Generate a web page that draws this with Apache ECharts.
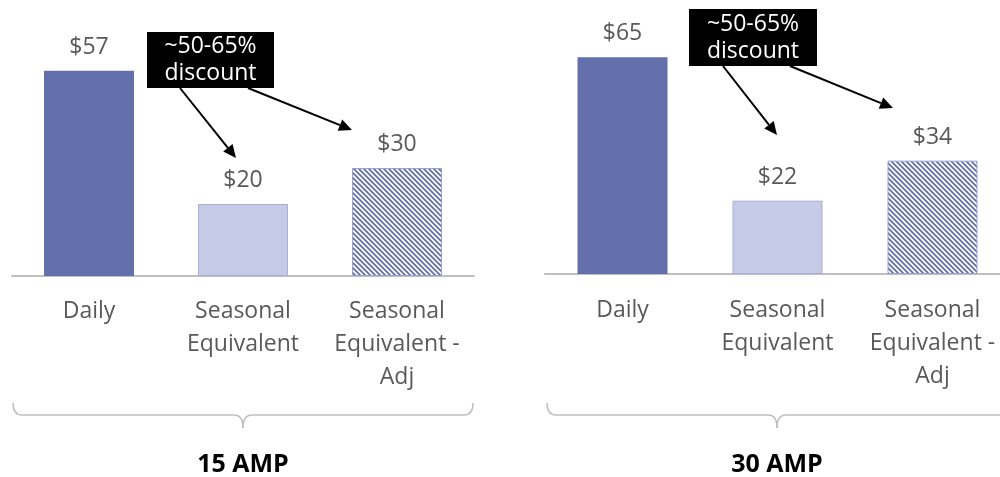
<!DOCTYPE html>
<html>
<head>
<meta charset="utf-8">
<script src="https://cdn.jsdelivr.net/npm/echarts@6/dist/echarts.min.js"></script>
<style>html,body{margin:0;padding:0;background:#fff}#c{width:1000px;height:477px}</style>
</head>
<body>
<div id="c"></div>
<script>
const categories = ['Daily', 'Seasonal\nEquivalent', 'Seasonal\nEquivalent -\nAdj'];
const amp15Values = [57, 20, 30];
const amp30Values = [65, 22, 34];
const groupLabels = ['15 AMP', '30 AMP'];
const annotationText = '~50-65%\ndiscount';

const FONT = '"Open Sans", "Noto Sans", sans-serif';
const DARK = '#6370ac';
const LIGHT = '#c5cae6';
const GRAY = '#595959';
const LINE = '#bfbfbf';

function makeHatch() {
  const c = document.createElement('canvas');
  c.width = 5; c.height = 5;
  const g = c.getContext('2d');
  g.fillStyle = '#ffffff';
  g.fillRect(0, 0, 5, 5);
  g.strokeStyle = DARK;
  g.lineWidth = 1.8;
  g.beginPath();
  for (const k of [-5, 0, 5]) { g.moveTo(k - 1, -1); g.lineTo(k + 6, 6); }
  g.stroke();
  return c;
}
const hatch = { image: makeHatch(), repeat: 'repeat' };

function items(vals) {
  return vals.map((v, i) => ({
    value: v,
    itemStyle: i === 0 ? { color: DARK } :
      i === 1 ? { color: LIGHT, borderColor: '#a9afd6', borderWidth: 1 } :
      { color: hatch, borderColor: '#9aa2d0', borderWidth: 1 }
  }));
}

const chart = echarts.init(document.getElementById('c'), null, { renderer: 'canvas' });

function xAxisCfg(gi, margin) {
  return {
    type: 'category', gridIndex: gi, data: categories,
    axisLine: { lineStyle: { color: LINE, width: 2 } },
    axisTick: { show: false },
    axisLabel: { color: GRAY, fontSize: 23, lineHeight: 33, fontFamily: FONT, margin: margin, interval: 0, align: 'center' }
  };
}
function yAxisCfg(gi, max) {
  return { type: 'value', gridIndex: gi, min: 0, max: max, show: false, splitLine: { show: false } };
}
function barSeries(gi, vals) {
  return {
    type: 'bar', xAxisIndex: gi, yAxisIndex: gi, barWidth: 90, data: items(vals),
    label: { show: true, position: 'top', distance: 12, color: GRAY, fontSize: 23, fontFamily: FONT, formatter: p => '$' + p.value },
    silent: true, animation: false
  };
}

function arrow(x1, y1, x2, y2) {
  const dx = x2 - x1, dy = y2 - y1, L = Math.hypot(dx, dy);
  const ux = dx / L, uy = dy / L, hl = 13, hw = 6;
  const bx = x2 - ux * hl, by = y2 - uy * hl;
  return [
    { type: 'line', shape: { x1, y1, x2: bx, y2: by }, style: { stroke: '#000', lineWidth: 2 }, silent: true },
    { type: 'polygon', shape: { points: [[x2, y2], [bx - uy * hw, by + ux * hw], [bx + uy * hw, by - ux * hw]] }, style: { fill: '#000' }, silent: true }
  ];
}
function box(x, y, w, h) {
  return [
    { type: 'rect', shape: { x, y, width: w, height: h }, style: { fill: '#000' }, silent: true },
    { type: 'text', x: x + w / 2, y: y + h / 2, style: { text: annotationText, fill: '#fff', fontSize: 23, lineHeight: 27, fontFamily: FONT, align: 'center', verticalAlign: 'middle' }, silent: true }
  ];
}
function curve(x1, y1, cx, cy, x2, y2) {
  return { type: 'bezierCurve', shape: { x1, y1, x2, y2, cpx1: cx, cpy1: cy }, style: { stroke: LINE, lineWidth: 1.5, fill: null }, silent: true };
}
function seg(x1, y1, x2, y2) {
  return { type: 'line', shape: { x1, y1, x2, y2 }, style: { stroke: LINE, lineWidth: 1.5 }, silent: true };
}
function bracket(x1, xm, x2, y) {
  const r = 9;
  return [
    curve(x1, y - 12, x1, y, x1 + r, y),
    seg(x1 + r, y, xm - r, y),
    curve(xm - r, y, xm, y, xm, y + 13),
    curve(xm, y + 13, xm, y, xm + r, y),
    seg(xm + r, y, x2 - r, y),
    curve(x2 - r, y, x2, y, x2, y - 12)
  ];
}
function title(x, text) {
  return { type: 'text', x, y: 465, style: { text, fill: '#000', fontSize: 25, fontWeight: 'bold', fontFamily: FONT, align: 'center', verticalAlign: 'middle' }, silent: true };
}

const graphics = [].concat(
  box(147, 32, 127, 56), arrow(180, 88, 236, 158), arrow(248, 88, 352, 130),
  box(689, 9, 128, 57), arrow(723, 66, 777, 135), arrow(790, 66, 893, 108),
  bracket(13, 243, 473, 415), bracket(547, 777, 1020, 415),
  [title(243, groupLabels[0]), title(777, groupLabels[1])]
);

chart.setOption({
  animation: false,
  grid: [
    { left: 12, width: 462, top: 24, height: 252, outerBoundsMode: 'none', containLabel: false },
    { left: 545, width: 465, top: 24, height: 250, outerBoundsMode: 'none', containLabel: false }
  ],
  xAxis: [xAxisCfg(0, 19), xAxisCfg(1, 20)],
  yAxis: [yAxisCfg(0, 70), yAxisCfg(1, 75)],
  series: [barSeries(0, amp15Values), barSeries(1, amp30Values)],
  graphic: graphics
});
</script>
</body>
</html>
